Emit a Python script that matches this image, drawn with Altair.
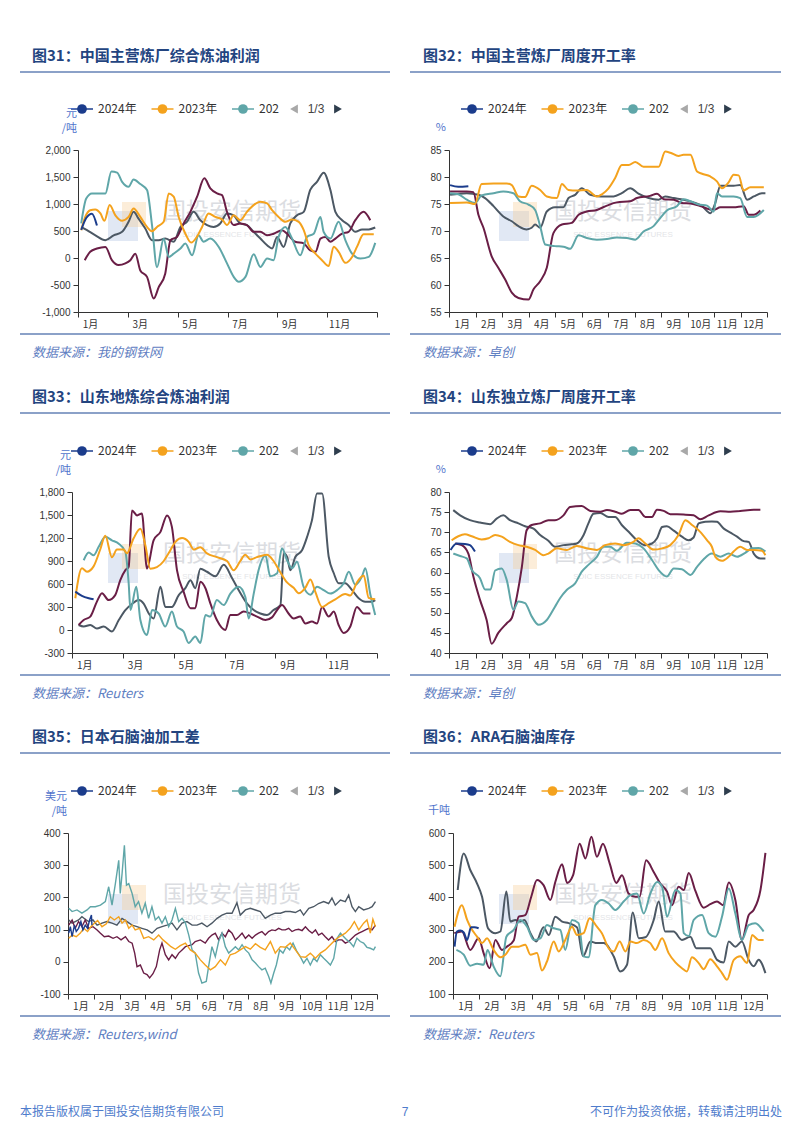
import altair as alt
import pandas as pd

CJK = "Noto Sans CJK SC"
LAT = "Liberation Sans"

YEARS = ["2024", "2023", "2022", "2021", "2020"]
COLORS = {"2024": "#1b3c8c", "2023": "#f4a21d", "2022": "#5fa6a8", "2021": "#6a1e46", "2020": "#4c5864"}
DRAW_ORDER = ["2020", "2021", "2022", "2023", "2024"]
LEGEND_LABELS = ["2024年", "2023年", "202"]
PAGER = "1/3"

MLAB_ODD = ["1月", "3月", "5月", "7月", "9月", "11月"]
MPOS_ODD = [0.5, 2.5, 4.5, 6.5, 8.5, 10.5]
MLAB_ALL = ["1月", "2月", "3月", "4月", "5月", "6月", "7月", "8月", "9月", "10月", "11月", "12月"]
MPOS_ALL = [0.5, 1.5, 2.5, 3.5, 4.5, 5.5, 6.5, 7.5, 8.5, 9.5, 10.5, 11.5]
XT_BI = [0, 2, 4, 6, 8, 10, 12]
XT_M = [0, 1, 2, 3, 4, 5, 6, 7, 8, 9, 10, 11, 12]

Y31 = [-1000, -500, 0, 500, 1000, 1500, 2000]
Y32 = [55, 60, 65, 70, 75, 80, 85]
Y33 = [-300, 0, 300, 600, 900, 1200, 1500, 1800]
Y34 = [40, 45, 50, 55, 60, 65, 70, 75, 80]
Y35 = [-100, 0, 100, 200, 300, 400]
Y36 = [100, 200, 300, 400, 500, 600]

# ---------------- data: (month position, value) ----------------
p31_2024 = [(0.13,520),(0.33,740),(0.56,820),(0.76,600)]
p31_2023 = [(0.13,515),(0.29,760),(0.49,885),(0.69,900),(0.9,825),(1.06,690),(1.27,980),(1.5,790),(1.77,690),(2.03,760),(2.23,915),(2.5,760),(2.77,575),(2.97,495),(3.17,575),(3.44,670),(3.64,1195),(3.84,1135),(4.04,760),(4.31,450),(4.54,285),(4.78,400),(4.98,575),(5.24,825),(5.51,760),(5.78,715),(5.98,610),(6.25,790),(6.51,700),(6.78,855),(7.05,980),(7.32,1040),(7.59,1010),(7.79,885),(8.05,760),(8.32,670),(8.59,715),(8.86,670),(9.06,515),(9.26,235),(9.53,80),(9.79,-40),(10.06,-150),(10.26,210),(10.46,115),(10.73,-90),(11.0,20),(11.2,210),(11.46,440),(11.87,440)]
p31_2022 = [(0.13,640),(0.33,1100),(0.56,1195),(0.9,1195),(1.1,1195),(1.34,1600),(1.57,1580),(1.77,1410),(2.03,1320),(2.23,1455),(2.5,1370),(2.77,1260),(2.97,610),(3.17,-170),(3.44,355),(3.64,20),(3.84,80),(4.11,175),(4.31,270),(4.58,50),(4.84,420),(5.04,300),(5.31,360),(5.65,205),(5.98,-100),(6.25,-350),(6.45,-440),(6.72,-350),(7.05,70),(7.32,-165),(7.59,-10),(7.85,-40),(8.05,390),(8.32,575),(8.59,360),(8.92,50),(9.19,390),(9.46,450),(9.73,760),(9.86,480),(10.13,360),(10.46,670),(10.73,330),(11.0,80),(11.33,-10),(11.67,20),(11.93,280)]
p31_2021 = [(0.27,-40),(0.49,115),(0.76,175),(1.1,205),(1.36,-40),(1.63,-130),(1.9,-100),(2.1,-40),(2.3,80),(2.5,-230),(2.77,-350),(3.04,-750),(3.24,-540),(3.5,-290),(3.71,330),(3.97,390),(4.24,640),(4.51,855),(4.78,1135),(5.07,1475),(5.31,1290),(5.58,1195),(5.78,1165),(5.98,855),(6.25,610),(6.51,640),(6.78,610),(7.05,485),(7.32,485),(7.59,420),(7.85,450),(8.19,515),(8.39,450),(8.72,300),(9.06,270),(9.32,140),(9.53,115),(9.73,360),(9.93,390),(10.13,300),(10.33,360),(10.6,450),(10.86,485),(11.13,700),(11.46,855),(11.73,700)]
p31_2020 = [(0.13,575),(0.36,515),(0.7,420),(1.1,330),(1.43,420),(1.77,485),(2.03,670),(2.23,855),(2.43,730),(2.7,545),(2.97,330),(3.24,330),(3.5,360),(3.84,300),(4.11,575),(4.37,670),(4.64,855),(4.91,700),(5.18,610),(5.44,575),(5.71,640),(5.98,825),(6.25,790),(6.51,640),(6.78,610),(7.05,485),(7.32,360),(7.59,235),(7.79,175),(7.99,390),(8.25,205),(8.52,640),(8.79,790),(9.06,855),(9.32,1260),(9.59,1410),(9.86,1580),(10.13,1260),(10.33,855),(10.6,700),(10.86,610),(11.13,485),(11.4,530),(11.67,530),(11.93,565)]

p32_2024 = [(0.04,78.5),(0.35,78.2),(0.73,78.3)]
p32_2023 = [(0.04,75.2),(0.67,75.3),(0.98,75.0),(1.23,78.7),(1.68,78.8),(2.18,78.8),(2.37,78.5),(2.62,76.4),(2.87,76.3),(3.12,78.4),(3.44,77.6),(3.69,76.4),(4.07,76.1),(4.26,78.7),(4.51,77.6),(4.82,77.5),(5.2,77.6),(5.58,76.4),(5.77,76.8),(6.02,77.9),(6.27,79.8),(6.52,82.2),(6.78,82.2),(7.03,82.8),(7.34,81.9),(7.91,81.9),(8.16,84.7),(8.35,84.5),(8.66,83.9),(8.85,84.1),(9.11,84.1),(9.36,81.0),(9.55,80.6),(9.86,80.1),(10.11,79.2),(10.3,77.9),(10.55,79.0),(10.74,80.4),(10.93,80.3),(11.12,77.5),(11.37,78.1),(11.88,78.1)]
p32_2022 = [(0.04,77.0),(0.35,76.8),(0.67,75.8),(0.98,75.2),(1.23,76.6),(1.68,77.0),(2.05,77.3),(2.43,77.0),(2.68,75.5),(3.0,74.9),(3.25,73.9),(3.44,70.9),(3.63,67.5),(4.0,67.2),(4.32,67.1),(4.57,66.7),(4.89,69.2),(5.2,68.7),(5.58,68.4),(5.96,68.5),(6.33,68.8),(6.71,68.7),(7.03,68.4),(7.34,69.9),(7.72,70.9),(7.97,72.4),(8.22,73.8),(8.6,74.6),(8.85,75.9),(9.11,75.5),(9.42,74.9),(9.74,74.7),(9.99,73.6),(10.11,77.0),(10.3,76.4),(10.74,76.4),(10.99,76.1),(11.25,72.6),(11.5,72.6),(11.88,73.9)]
p32_2021 = [(0.04,77.3),(0.67,77.3),(0.92,77.2),(1.11,73.0),(1.3,70.6),(1.61,65.3),(1.86,63.2),(2.12,61.0),(2.37,58.6),(2.62,57.6),(3.0,57.3),(3.19,59.2),(3.44,60.7),(3.69,63.2),(3.94,69.6),(4.26,71.2),(4.63,71.5),(4.89,73.0),(5.2,73.6),(5.58,73.9),(5.96,74.7),(6.33,75.3),(6.84,75.5),(7.09,76.1),(7.59,76.5),(7.85,76.9),(8.1,75.9),(8.48,75.8),(8.79,75.2),(9.11,75.1),(9.48,74.6),(9.99,73.9),(10.24,74.4),(10.74,74.4),(11.12,74.6),(11.31,73.0),(11.5,73.0),(11.75,73.8)]
p32_2020 = [(0.04,76.7),(0.67,77.0),(1.11,76.7),(1.36,76.1),(1.68,74.6),(2.05,72.7),(2.37,71.8),(2.62,70.9),(2.93,70.3),(3.12,70.6),(3.25,71.2),(3.44,70.6),(3.69,73.6),(4.0,74.4),(4.32,74.4),(4.51,76.1),(4.76,76.7),(5.01,77.9),(5.33,76.7),(5.71,76.4),(6.21,76.4),(6.52,77.0),(6.84,77.9),(7.15,76.9),(7.53,76.1),(7.91,75.8),(8.16,76.4),(8.48,76.1),(8.85,75.8),(9.23,75.3),(9.55,74.6),(9.86,73.3),(10.05,75.2),(10.24,78.4),(10.74,78.4),(10.99,78.5),(11.25,75.8),(11.5,76.4),(11.81,77.0),(11.94,77.0)]

p33_2024 = [(0.13,501),(0.39,445),(0.66,414),(0.85,401)]
p33_2023 = [(0.13,414),(0.39,804),(0.59,761),(0.85,830),(1.11,1050),(1.31,1230),(1.57,950),(1.77,1050),(2.03,1050),(2.16,1000),(2.43,1200),(2.69,1320),(2.89,1100),(3.08,800),(3.34,820),(3.61,900),(3.8,1000),(4.07,1150),(4.33,1200),(4.59,1150),(4.79,1050),(5.05,1080),(5.31,1000),(5.7,950),(6.1,900),(6.36,780),(6.62,900),(6.82,980),(7.02,920),(7.28,950),(7.67,980),(7.93,900),(8.2,750),(8.46,620),(8.72,550),(8.92,480),(9.18,550),(9.38,660),(9.57,500),(9.84,300),(10.1,350),(10.36,400),(10.75,470),(10.95,450),(11.21,620),(11.48,710),(11.67,420),(11.93,400)]
p33_2022 = [(0.46,910),(0.66,1010),(0.85,975),(1.05,1085),(1.31,1215),(1.57,1170),(1.84,1125),(2.1,1020),(2.23,610),(2.3,260),(2.53,565),(2.69,130),(2.95,-65),(3.15,260),(3.41,215),(3.67,45),(3.93,240),(4.13,45),(4.39,-20),(4.59,-170),(4.85,-85),(5.05,-170),(5.25,195),(5.44,175),(5.7,390),(5.97,325),(6.23,475),(6.56,565),(6.82,430),(6.95,150),(7.15,475),(7.34,780),(7.61,975),(7.8,700),(8.07,740),(8.26,1065),(8.46,910),(8.66,805),(8.85,890),(9.11,565),(9.38,460),(9.64,565),(9.9,520),(10.16,475),(10.43,520),(10.69,610),(10.89,760),(11.15,590),(11.41,700),(11.54,805),(11.74,460),(11.93,195)]
p33_2021 = [(0.26,65),(0.46,130),(0.72,175),(0.98,370),(1.18,480),(1.44,390),(1.7,455),(1.9,650),(2.1,780),(2.23,825),(2.36,1560),(2.56,1495),(2.75,1520),(2.95,800),(3.21,1170),(3.48,1280),(3.74,1495),(3.93,1345),(4.13,780),(4.39,500),(4.66,285),(4.85,285),(5.05,630),(5.25,545),(5.44,350),(5.7,130),(6.03,0),(6.23,195),(6.49,195),(6.75,240),(7.02,215),(7.28,175),(7.61,130),(7.87,165),(8.07,260),(8.26,325),(8.52,215),(8.72,150),(8.98,175),(9.18,85),(9.44,110),(9.64,85),(9.84,300),(10.1,175),(10.3,240),(10.49,65),(10.69,-40),(10.95,45),(11.21,300),(11.48,215),(11.74,215)]
p33_2020 = [(0.26,65),(0.46,45),(0.72,65),(0.98,20),(1.25,45),(1.57,-20),(1.84,130),(2.1,260),(2.36,340),(2.62,390),(2.82,345),(3.02,215),(3.21,150),(3.48,565),(3.67,300),(3.93,300),(4.2,455),(4.46,545),(4.66,650),(4.85,545),(5.05,800),(5.31,760),(5.64,700),(5.97,850),(6.3,675),(6.56,520),(6.89,345),(7.15,260),(7.41,215),(7.67,195),(7.93,260),(8.2,325),(8.33,1000),(8.46,955),(8.59,780),(8.79,955),(9.05,1040),(9.25,1215),(9.44,1430),(9.64,1780),(9.84,1780),(10.1,955),(10.3,740),(10.49,610),(10.75,610),(11.02,520),(11.28,415),(11.54,370),(11.8,370),(11.93,390)]

p34_2024 = [(0.06,65.6),(0.29,67.2),(0.6,67.1),(0.79,66.8),(0.98,65.2)]
p34_2023 = [(0.1,68.0),(0.35,69.0),(0.6,69.5),(0.86,69.0),(1.23,68.2),(1.49,68.5),(1.74,69.3),(1.99,68.9),(2.3,67.6),(2.62,66.8),(2.93,66.4),(3.25,65.6),(3.56,64.3),(3.75,64.7),(4.07,66.0),(4.45,65.6),(4.82,66.6),(5.2,66.0),(5.58,65.6),(5.89,66.8),(6.27,67.2),(6.59,66.8),(6.96,67.6),(7.15,68.5),(7.41,67.2),(7.72,65.7),(8.04,66.0),(8.35,66.8),(8.66,69.3),(8.92,73.0),(9.17,71.8),(9.48,70.1),(9.74,68.0),(9.92,66.4),(10.05,63.9),(10.3,62.9),(10.55,63.9),(10.74,65.2),(10.99,66.4),(11.25,65.6),(11.5,65.6),(11.81,65.4),(11.94,64.3)]
p34_2022 = [(0.16,64.7),(0.42,64.1),(0.67,63.5),(0.86,60.6),(1.17,58.6),(1.36,55.8),(1.57,55.8),(1.74,60.5),(1.99,61.0),(2.18,58.1),(2.43,50.7),(2.62,52.8),(2.87,52.4),(3.12,49.1),(3.38,47.0),(3.69,48.2),(4.0,51.5),(4.19,53.6),(4.45,55.7),(4.76,57.3),(5.01,60.2),(5.26,61.9),(5.58,63.9),(5.83,66.4),(6.08,66.4),(6.33,65.4),(6.71,67.4),(7.03,67.2),(7.34,66.0),(7.66,63.1),(7.91,60.6),(8.22,59.0),(8.48,61.0),(8.79,60.8),(9.11,59.4),(9.36,61.4),(9.61,63.3),(9.92,64.7),(10.24,63.9),(10.55,64.7),(10.87,63.9),(11.18,64.9),(11.44,66.0),(11.69,66.1),(11.94,65.2)]
p34_2021 = [(0.23,67.2),(0.48,66.8),(0.73,64.7),(0.92,59.0),(1.17,53.2),(1.42,48.2),(1.61,42.3),(1.86,45.0),(2.18,47.4),(2.37,48.7),(2.56,54.0),(2.75,61.4),(2.93,70.5),(3.12,71.8),(3.44,72.2),(3.75,73.0),(4.0,73.0),(4.32,74.2),(4.57,76.3),(5.01,76.5),(5.33,75.3),(5.71,75.1),(5.96,75.5),(6.27,75.1),(6.52,74.6),(6.84,75.5),(7.15,75.5),(7.41,73.8),(7.66,73.8),(7.85,75.6),(8.1,75.3),(8.35,74.5),(8.85,74.4),(9.23,74.2),(9.48,73.2),(9.8,74.2),(10.24,75.2),(10.62,75.1),(10.99,75.3),(11.5,75.6),(11.75,75.6)]
p34_2020 = [(0.16,75.5),(0.42,74.2),(0.79,73.0),(1.17,72.4),(1.55,72.0),(1.8,73.4),(2.05,74.2),(2.3,73.0),(2.62,72.2),(2.87,71.5),(3.19,70.9),(3.44,69.3),(3.75,67.9),(4.0,66.4),(4.32,66.8),(4.63,67.0),(4.82,67.2),(5.08,69.3),(5.26,72.2),(5.45,74.6),(5.71,74.8),(6.02,73.8),(6.27,73.8),(6.52,71.8),(6.84,69.7),(7.09,68.0),(7.41,66.8),(7.66,67.2),(7.85,68.5),(8.04,71.3),(8.22,71.5),(8.48,70.4),(8.79,68.9),(9.04,68.0),(9.23,68.7),(9.42,72.2),(9.67,72.6),(9.92,72.7),(10.11,72.6),(10.37,70.9),(10.62,69.9),(10.87,68.9),(11.12,67.8),(11.31,67.6),(11.5,64.7),(11.75,63.5),(11.94,63.5)]

p35_2024 = [(0.03,89),(0.09,109),(0.16,78),(0.25,114),(0.32,94),(0.41,104),(0.5,125),(0.58,99),(0.67,114),(0.76,104),(0.84,130),(0.91,145),(0.93,114)]
p35_2023 = [(0.03,73),(0.16,83),(0.32,78),(0.48,89),(0.61,104),(0.76,94),(0.89,109),(1.02,120),(1.15,128),(1.32,109),(1.49,118),(1.64,140),(1.8,130),(1.97,140),(2.1,120),(2.23,130),(2.36,104),(2.49,114),(2.61,99),(2.78,104),(2.94,73),(3.13,78),(3.33,68),(3.52,83),(3.69,68),(3.84,58),(4.0,47),(4.17,39),(4.36,50),(4.56,58),(4.75,37),(4.94,27),(5.14,6),(5.33,-10),(5.53,-25),(5.72,-15),(5.92,6),(6.11,-10),(6.3,22),(6.5,27),(6.69,37),(6.89,47),(7.08,39),(7.28,56),(7.47,45),(7.66,37),(7.86,63),(8.05,27),(8.25,47),(8.44,45),(8.63,58),(8.83,37),(9.02,16),(9.22,14),(9.41,27),(9.61,11),(9.8,27),(9.99,37),(10.19,53),(10.38,68),(10.58,80),(10.77,89),(10.96,104),(11.12,125),(11.29,99),(11.48,120),(11.61,130),(11.74,89),(11.84,132),(11.94,109)]
p35_2022 = [(0.03,166),(0.16,156),(0.35,161),(0.54,151),(0.74,161),(0.87,171),(1.06,171),(1.26,176),(1.45,187),(1.58,233),(1.71,176),(1.84,243),(1.97,315),(2.03,212),(2.1,274),(2.19,362),(2.27,238),(2.36,243),(2.49,212),(2.61,171),(2.74,187),(2.87,151),(3.0,182),(3.13,135),(3.26,171),(3.39,130),(3.52,140),(3.65,120),(3.78,140),(3.91,109),(4.04,130),(4.17,166),(4.3,125),(4.43,135),(4.56,120),(4.69,83),(4.82,37),(4.94,27),(5.07,-35),(5.2,-66),(5.37,-61),(5.46,-15),(5.59,47),(5.72,16),(5.85,63),(5.98,89),(6.11,47),(6.24,27),(6.37,37),(6.5,47),(6.63,37),(6.76,53),(6.89,37),(7.02,27),(7.15,6),(7.28,-4),(7.4,-15),(7.53,-25),(7.66,-20),(7.79,-45),(7.88,-66),(7.99,-35),(8.09,-10),(8.22,37),(8.35,27),(8.48,47),(8.61,37),(8.74,58),(8.89,32),(9.02,16),(9.15,-4),(9.28,11),(9.41,-10),(9.54,11),(9.67,1),(9.8,22),(9.93,11),(10.06,1),(10.19,-10),(10.32,11),(10.45,73),(10.58,89),(10.71,78),(10.83,68),(10.96,60),(11.09,47),(11.22,73),(11.35,63),(11.48,58),(11.61,45),(11.74,42),(11.87,37),(11.94,47)]
p35_2021 = [(0.03,114),(0.16,130),(0.28,104),(0.41,125),(0.54,109),(0.67,130),(0.8,104),(0.97,109),(1.13,99),(1.26,89),(1.41,78),(1.58,80),(1.75,73),(1.9,78),(2.06,68),(2.23,78),(2.36,63),(2.49,58),(2.59,27),(2.68,-15),(2.81,-10),(2.94,-35),(3.07,-40),(3.17,-50),(3.3,-37),(3.43,-15),(3.56,37),(3.65,58),(3.78,22),(3.91,6),(4.04,22),(4.17,11),(4.3,27),(4.43,37),(4.56,47),(4.69,50),(4.82,53),(4.94,63),(5.14,68),(5.33,58),(5.46,73),(5.59,83),(5.72,89),(5.85,68),(5.98,89),(6.11,78),(6.24,99),(6.37,89),(6.5,68),(6.63,78),(6.76,89),(6.89,73),(7.02,83),(7.15,73),(7.28,83),(7.4,89),(7.53,94),(7.66,83),(7.79,94),(7.92,99),(8.05,97),(8.18,104),(8.31,99),(8.44,99),(8.57,104),(8.7,94),(8.83,99),(8.96,101),(9.09,97),(9.22,109),(9.35,97),(9.48,89),(9.61,99),(9.73,83),(9.86,89),(9.99,78),(10.12,68),(10.25,78),(10.38,63),(10.51,68),(10.64,68),(10.77,58),(10.9,63),(11.03,73),(11.16,83),(11.29,89),(11.42,94),(11.55,99),(11.68,104),(11.81,99),(11.94,114)]
p35_2020 = [(0.03,130),(0.16,120),(0.28,125),(0.41,130),(0.54,140),(0.67,132),(0.8,125),(0.97,130),(1.13,114),(1.32,120),(1.51,125),(1.71,120),(1.9,114),(2.1,135),(2.29,125),(2.49,114),(2.68,109),(2.87,104),(3.07,99),(3.26,89),(3.46,104),(3.65,109),(3.84,114),(4.04,120),(4.23,99),(4.43,120),(4.62,125),(4.82,114),(5.01,114),(5.2,120),(5.4,109),(5.59,120),(5.79,135),(5.98,145),(6.17,151),(6.37,151),(6.56,183),(6.69,145),(6.89,161),(7.08,166),(7.28,161),(7.47,156),(7.66,135),(7.86,145),(8.05,151),(8.25,151),(8.44,156),(8.63,156),(8.83,153),(9.02,161),(9.15,145),(9.35,166),(9.54,171),(9.73,181),(9.93,187),(10.12,181),(10.25,198),(10.38,176),(10.58,192),(10.77,187),(10.9,207),(11.03,171),(11.16,156),(11.29,171),(11.48,161),(11.68,166),(11.81,171),(11.94,187)]

p36_2024 = [(0.06,247),(0.15,294),(0.28,297),(0.41,291),(0.54,268),(0.69,307),(0.82,307),(0.98,304)]
p36_2023 = [(0.06,309),(0.34,376),(0.54,330),(0.66,309),(0.92,278),(1.11,258),(1.3,273),(1.55,237),(1.81,214),(2.0,222),(2.25,247),(2.51,247),(2.76,253),(2.96,222),(3.21,227),(3.4,173),(3.59,201),(3.85,263),(4.04,232),(4.29,268),(4.55,309),(4.74,283),(4.99,289),(5.22,335),(5.5,309),(5.69,289),(5.95,242),(6.14,232),(6.37,263),(6.59,232),(6.78,263),(7.03,258),(7.29,268),(7.54,258),(7.73,237),(7.99,273),(8.24,227),(8.5,198),(8.75,180),(8.94,170),(9.13,214),(9.39,196),(9.58,177),(9.83,208),(10.09,186),(10.28,165),(10.47,144),(10.73,206),(10.98,217),(11.24,196),(11.43,283),(11.68,268),(11.87,268)]
p36_2022 = [(0.13,237),(0.41,222),(0.66,188),(0.92,194),(1.17,191),(1.32,237),(1.55,186),(1.81,155),(2.04,278),(2.32,299),(2.57,330),(2.83,309),(3.08,268),(3.34,273),(3.59,314),(3.85,304),(4.1,299),(4.29,237),(4.55,330),(4.8,320),(4.99,217),(5.18,214),(5.44,376),(5.69,392),(5.95,381),(6.2,361),(6.52,387),(6.78,407),(7.03,412),(7.29,350),(7.54,412),(7.8,448),(7.99,433),(8.18,340),(8.5,423),(8.69,412),(8.82,289),(9.01,280),(9.2,330),(9.52,345),(9.77,289),(10.03,278),(10.28,340),(10.54,428),(10.79,350),(11.04,268),(11.3,314),(11.55,320),(11.87,294)]
p36_2021 = [(0.05,289),(0.34,294),(0.66,237),(0.98,273),(1.17,227),(1.4,180),(1.62,268),(1.87,237),(2.06,247),(2.32,266),(2.51,340),(2.76,345),(2.99,402),(3.21,454),(3.46,438),(3.72,392),(3.91,448),(4.17,503),(4.36,445),(4.59,469),(4.84,567),(5.06,521),(5.29,588),(5.5,526),(5.73,567),(5.99,505),(6.24,445),(6.46,469),(6.71,412),(6.97,402),(7.13,402),(7.38,515),(7.67,479),(7.92,443),(8.18,418),(8.37,376),(8.62,433),(8.82,423),(9.01,476),(9.26,421),(9.58,368),(9.83,379),(10.09,387),(10.32,376),(10.54,446),(10.79,392),(11.04,268),(11.3,345),(11.49,361),(11.75,423),(11.94,538)]
p36_2020 = [(0.18,423),(0.41,536),(0.66,485),(0.92,443),(1.11,402),(1.34,304),(1.62,289),(1.81,294),(2.04,418),(2.19,325),(2.38,330),(2.57,325),(2.73,330),(2.96,289),(3.18,263),(3.46,307),(3.66,283),(3.91,340),(4.17,325),(4.42,320),(4.74,307),(4.97,217),(5.25,263),(5.5,258),(5.76,258),(6.14,217),(6.39,170),(6.65,191),(6.87,353),(7.1,273),(7.35,276),(7.67,330),(7.86,387),(8.11,294),(8.43,294),(8.75,268),(9.07,278),(9.3,242),(9.55,242),(9.83,242),(10.09,206),(10.34,198),(10.54,263),(10.79,247),(11.04,263),(11.3,206),(11.49,186),(11.68,206),(11.94,165)]

TITLE_C = "#23447f"
RULE_C = "#6482b6"
SRC_C = "#5f80c2"
UNIT_C = "#4f73cc"
FOOT_C = "#4f7ccc"
AX_C = "#333333"

ONE = pd.DataFrame({"a": [0]})


def txt(s, x, y, size, color, align="left", weight="normal", font=CJK, italic=False, opacity=1.0):
    kw = dict(align=align, baseline="middle", fontSize=size, color=color, font=font,
              fontWeight=weight, opacity=opacity)
    if italic:
        kw["fontStyle"] = "italic"
    return alt.Chart(pd.DataFrame({"t": [s]})).mark_text(**kw).encode(
        text="t:N", x=alt.value(x), y=alt.value(y))


def hrule(x1, x2, y, color, w):
    return alt.Chart(ONE).mark_rule(color=color, strokeWidth=w).encode(
        x=alt.value(x1), x2=alt.value(x2), y=alt.value(y))


def box(x1, x2, y1, y2, color, opacity):
    return alt.Chart(ONE).mark_rect(color=color, opacity=opacity).encode(
        x=alt.value(x1), x2=alt.value(x2), y=alt.value(y1), y2=alt.value(y2))


def dot(x, y, color, size, shape="circle"):
    return alt.Chart(ONE).mark_point(shape=shape, filled=True, size=size, color=color, opacity=1).encode(
        x=alt.value(x), y=alt.value(y))


def build_panel(cfg):
    left = cfg["col"] == "L"
    gx = 68 if left else 449          # page x of the panel group
    W = 309 if left else 318          # group width (right end of x axis)
    ax = cfg["ax"]                    # page x of the y axis
    oy, H = cfg["oy"], cfg["h"]
    inset = ax - gx

    def rx(px):
        return px - gx

    def ry(py):
        return py - oy

    xs = alt.Scale(domain=[0, 12], nice=False, zero=False, range=[inset, W])
    ys = alt.Scale(domain=[cfg["ymin"], cfg["ymax"]], nice=False, zero=False)
    xaxis = alt.Axis(values=cfg["xticks"], labels=False, ticks=True, tickSize=5, grid=False,
                     title=None, domain=True, domainColor=AX_C, tickColor=AX_C)
    yaxis = alt.Axis(values=cfg["yticks"], grid=False, title=None, tickSize=5, offset=-inset,
                     labelExpr="(datum.value < 0 ? '-' : '') + format(abs(datum.value), ',')",
                     labelFont=LAT, labelFontSize=10, labelColor=AX_C, labelPadding=3,
                     domainColor=AX_C, tickColor=AX_C)
    layers = []

    # watermark
    cx = 232 if left else 623
    cy = oy + 62
    layers.append(box(rx(cx - 124), rx(cx - 94), ry(cy - 1), ry(cy + 29), "#a9bce0", 0.35))
    layers.append(box(rx(cx - 110), rx(cx - 86), ry(cy - 10), ry(cy + 15), "#f7cb92", 0.35))
    layers.append(txt("国投安信期货", rx(cx), ry(cy), 23, "#b9bdc5", align="center", opacity=0.5))
    layers.append(txt("SDIC ESSENCE FUTURES", rx(cx), ry(cy + 23), 8, "#b9bdc5", align="center",
                      font=LAT, opacity=0.4))

    # series
    for yr in DRAW_ORDER:
        df = pd.DataFrame(cfg["series"][yr], columns=["m", "v"])
        layers.append(alt.Chart(df).mark_line(color=COLORS[yr], strokeWidth=cfg["sw"],
                                              interpolate=cfg["interp"]).encode(
            x=alt.X("m:Q", scale=xs, axis=xaxis), y=alt.Y("v:Q", scale=ys, axis=yaxis)))

    # month labels
    mdf = pd.DataFrame({"m": cfg["mpos"], "lab": cfg["mlab"]})
    layers.append(alt.Chart(mdf).mark_text(fontSize=10, font=CJK, color=AX_C, baseline="middle").encode(
        x=alt.X("m:Q", scale=xs, axis=xaxis), y=alt.value(H + 13), text="lab:N"))

    # title, rules, source
    rl, rr = (20, 390) if left else (410, 781)
    tx = 32 if left else 423
    layers.append(txt(cfg["title"], rx(tx), ry(cfg["rule_y"] - 16), 15, TITLE_C, weight="bold"))
    layers.append(hrule(rx(rl), rx(rr), ry(cfg["rule_y"]), RULE_C, 1.5))
    layers.append(hrule(rx(rl), rx(rr), H + 22, RULE_C, 1.5))
    layers.append(txt(cfg["source"], rx(tx), H + 41, 13, SRC_C, italic=True))

    # legend
    lx = 82 if left else 472
    ly = ry(cfg["legend_y"])
    for i, (lab, yr) in enumerate(zip(LEGEND_LABELS, YEARS[:3])):
        c = rx(lx + 80.5 * i)
        layers.append(hrule(c - 11, c + 11, ly, COLORS[yr], 1.5))
        layers.append(dot(c, ly, COLORS[yr], 95))
        layers.append(txt(lab, c + 16, ly, 12, "#333333"))
    layers.append(dot(rx(lx + 212), ly, "#a8a8a8", 80, "triangle-left"))
    layers.append(txt(PAGER, rx(lx + 234), ly, 12, "#444444", align="center", font=LAT))
    layers.append(dot(rx(lx + 256), ly, "#2e3d4d", 80, "triangle-right"))

    # unit label
    ux = inset - (1 if left else 3)
    if len(cfg["unit"]) == 2:
        layers.append(txt(cfg["unit"][0], ux, -36, 11, UNIT_C, align="right"))
        layers.append(txt(cfg["unit"][1], ux, -21, 11, UNIT_C, align="right"))
    else:
        layers.append(txt(cfg["unit"][0], ux, -22, 11, UNIT_C, align="right"))

    if cfg.get("marker"):
        layers.append(box(rx(8), rx(9), ry(8), ry(9), "white", 1))
    if cfg.get("footer"):
        fy = ry(1112)
        layers.append(txt("本报告版权属于国投安信期货有限公司", rx(20), fy, 12, FOOT_C))
        layers.append(txt("7", rx(405), fy, 12, FOOT_C, align="center", font=LAT))
        layers.append(txt("不可作为投资依据，转载请注明出处", rx(782), fy, 12, FOOT_C, align="right"))

    return alt.layer(*layers).properties(width=W, height=H)


panels_cfg = [
    dict(title="图31：中国主营炼厂综合炼油利润", source="数据来源：我的钢铁网", unit=["元", "/吨"],
         ax=78, oy=150, h=162, rule_y=72, legend_y=109, col="L",
         ymin=-1000, ymax=2000, yticks=Y31, xticks=XT_BI, mpos=MPOS_ODD, mlab=MLAB_ODD,
         sw=2, interp="monotone", marker=True,
         series={"2024": p31_2024, "2023": p31_2023, "2022": p31_2022, "2021": p31_2021, "2020": p31_2020}),
    dict(title="图32：中国主营炼厂周度开工率", source="数据来源：卓创", unit=["%"],
         ax=449, oy=150, h=162, rule_y=72, legend_y=109, col="R",
         ymin=55, ymax=85, yticks=Y32, xticks=XT_M, mpos=MPOS_ALL, mlab=MLAB_ALL,
         sw=2, interp="monotone",
         series={"2024": p32_2024, "2023": p32_2023, "2022": p32_2022, "2021": p32_2021, "2020": p32_2020}),
    dict(title="图33：山东地炼综合炼油利润", source="数据来源：Reuters", unit=["元", "/吨"],
         ax=72, oy=492, h=161, rule_y=413, legend_y=451, col="L",
         ymin=-300, ymax=1800, yticks=Y33, xticks=XT_BI, mpos=MPOS_ODD, mlab=MLAB_ODD,
         sw=2, interp="monotone",
         series={"2024": p33_2024, "2023": p33_2023, "2022": p33_2022, "2021": p33_2021, "2020": p33_2020}),
    dict(title="图34：山东独立炼厂周度开工率", source="数据来源：卓创", unit=["%"],
         ax=449, oy=492, h=161, rule_y=413, legend_y=451, col="R",
         ymin=40, ymax=80, yticks=Y34, xticks=XT_M, mpos=MPOS_ALL, mlab=MLAB_ALL,
         sw=2, interp="monotone",
         series={"2024": p34_2024, "2023": p34_2023, "2022": p34_2022, "2021": p34_2021, "2020": p34_2020}),
    dict(title="图35：日本石脑油加工差", source="数据来源：Reuters,wind", unit=["美元", "/吨"],
         ax=68, oy=833, h=161, rule_y=753, legend_y=791, col="L",
         ymin=-100, ymax=400, yticks=Y35, xticks=XT_M, mpos=MPOS_ALL, mlab=MLAB_ALL,
         sw=1.4, interp="linear", footer=True,
         series={"2024": p35_2024, "2023": p35_2023, "2022": p35_2022, "2021": p35_2021, "2020": p35_2020}),
    dict(title="图36：ARA石脑油库存", source="数据来源：Reuters", unit=["千吨"],
         ax=453, oy=833, h=161, rule_y=753, legend_y=791, col="R",
         ymin=100, ymax=600, yticks=Y36, xticks=XT_M, mpos=MPOS_ALL, mlab=MLAB_ALL,
         sw=2, interp="monotone",
         series={"2024": p36_2024, "2023": p36_2023, "2022": p36_2022, "2021": p36_2021, "2020": p36_2020}),
]

P = [build_panel(c) for c in panels_cfg]

chart = alt.concat(
    *P, columns=2, spacing={"row": 180, "column": 72}, bounds="flush",
).properties(padding=0, background="white").configure_view(stroke=None)

chart.save("out.html", embed_options={"renderer": "svg", "actions": False})
